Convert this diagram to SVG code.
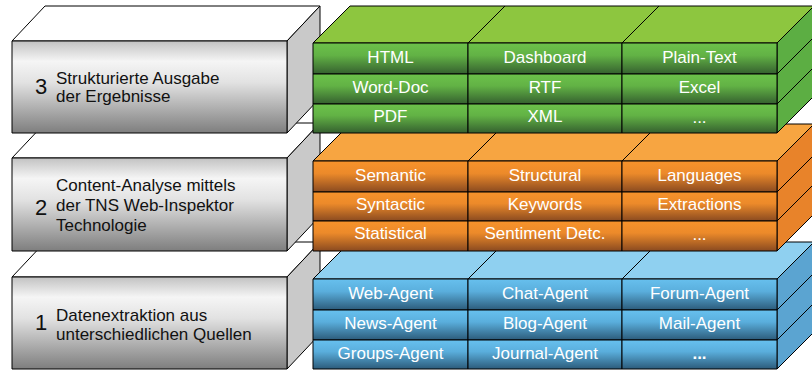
<svg xmlns="http://www.w3.org/2000/svg" width="812" height="370" viewBox="0 0 812 370">
  <defs>
    <linearGradient id="gGray" x1="0" y1="0" x2="0" y2="1">
      <stop offset="0" stop-color="#c2c2c2"/>
      <stop offset="0.22" stop-color="#f5f5f5"/>
      <stop offset="0.45" stop-color="#e2e2e2"/>
      <stop offset="1" stop-color="#7e7e7e"/>
    </linearGradient>
    <linearGradient id="gGreen" x1="0" y1="0" x2="0" y2="1">
      <stop offset="0" stop-color="#6cc24a"/>
      <stop offset="0.4" stop-color="#62b245"/>
      <stop offset="1" stop-color="#35602f"/>
    </linearGradient>
    <linearGradient id="gOrange" x1="0" y1="0" x2="0" y2="1">
      <stop offset="0" stop-color="#f7932b"/>
      <stop offset="0.4" stop-color="#ec8a2a"/>
      <stop offset="1" stop-color="#8a4a20"/>
    </linearGradient>
    <linearGradient id="gBlue" x1="0" y1="0" x2="0" y2="1">
      <stop offset="0" stop-color="#67c0ee"/>
      <stop offset="0.4" stop-color="#5aaedc"/>
      <stop offset="1" stop-color="#2c5b7a"/>
    </linearGradient>
  </defs>
  <style>
    .e{stroke:#000;stroke-width:1;stroke-linejoin:round}
    .gtop{fill:#ffffff}
    .gside{fill:#c9c9c9}
    .gfront{fill:url(#gGray)}
    .lbl{font-family:"Liberation Sans",Arial,Helvetica,sans-serif;font-size:17px;fill:#111}
    .num{font-family:"Liberation Sans",Arial,Helvetica,sans-serif;font-size:22px;fill:#111}
    .ct{font-family:"Liberation Sans",Arial,Helvetica,sans-serif;font-size:17px;fill:#ffffff;text-anchor:middle}
    .green .cell{fill:url(#gGreen)}
    .green .top{fill:#8dc63f}
    .green .side{fill:#5cae43}
    .orange .cell{fill:url(#gOrange)}
    .orange .top{fill:#f7a541}
    .orange .side{fill:#e8832a}
    .blue .cell{fill:url(#gBlue)}
    .blue .top{fill:#8fd0f0}
    .blue .side{fill:#5ba4d1}
    .ln{stroke:#000;stroke-width:1;fill:none}
  </style>

  <!-- Gray label boxes (bottom to top) -->
  <g id="label-1">
    <polygon class="gtop e" points="12,277 287,277 320,242 45,242"/>
    <polygon class="gside e" points="287,277 320,242 320,334 287,369"/>
    <rect class="gfront e" x="12" y="277" width="275" height="92"/>
    <text class="num" x="35" y="330">1</text>
    <text class="lbl" x="56" y="321">Datenextraktion aus</text>
    <text class="lbl" x="56" y="340">unterschiedlichen Quellen</text>
  </g>
  <g id="label-2">
    <polygon class="gtop e" points="12,158 287,158 320,123 45,123"/>
    <polygon class="gside e" points="287,158 320,123 320,216 287,251"/>
    <rect class="gfront e" x="12" y="158" width="275" height="93"/>
    <text class="num" x="35" y="215">2</text>
    <text class="lbl" x="56" y="191">Content-Analyse mittels</text>
    <text class="lbl" x="56" y="211">der TNS Web-Inspektor</text>
    <text class="lbl" x="56" y="231">Technologie</text>
  </g>
  <g id="label-3">
    <polygon class="gtop e" points="12,41 287,41 320,6 45,6"/>
    <polygon class="gside e" points="287,41 320,6 320,98 287,133"/>
    <rect class="gfront e" x="12" y="41" width="275" height="92"/>
    <text class="num" x="35" y="94">3</text>
    <text class="lbl" x="56" y="84">Strukturierte Ausgabe</text>
    <text class="lbl" x="56" y="102">der Ergebnisse</text>
  </g>

  <!-- Layer 1: blue -->
  <g id="block-1" class="blue">
    <polygon class="top e" points="313,279 777,279 814,242 350,242"/>
    <line class="ln" x1="468" y1="279" x2="505" y2="242"/>
    <line class="ln" x1="622" y1="279" x2="659" y2="242"/>
    <polygon class="side e" points="777,279 814,242 814,332 777,369"/>
    <line class="ln" x1="777" y1="310" x2="814" y2="273"/>
    <line class="ln" x1="777" y1="340" x2="814" y2="303"/>
    <g id="web-agent"><rect class="cell e" x="313" y="279" width="155" height="31"/><text class="ct" x="390.5" y="298.5">Web-Agent</text></g>
    <g id="chat-agent"><rect class="cell e" x="468" y="279" width="154" height="31"/><text class="ct" x="545" y="298.5">Chat-Agent</text></g>
    <g id="forum-agent"><rect class="cell e" x="622" y="279" width="155" height="31"/><text class="ct" x="699.5" y="298.5">Forum-Agent</text></g>
    <g id="news-agent"><rect class="cell e" x="313" y="310" width="155" height="30"/><text class="ct" x="390.5" y="329">News-Agent</text></g>
    <g id="blog-agent"><rect class="cell e" x="468" y="310" width="154" height="30"/><text class="ct" x="545" y="329">Blog-Agent</text></g>
    <g id="mail-agent"><rect class="cell e" x="622" y="310" width="155" height="30"/><text class="ct" x="699.5" y="329">Mail-Agent</text></g>
    <g id="groups-agent"><rect class="cell e" x="313" y="340" width="155" height="29"/><text class="ct" x="390.5" y="358.5">Groups-Agent</text></g>
    <g id="journal-agent"><rect class="cell e" x="468" y="340" width="154" height="29"/><text class="ct" x="545" y="358.5">Journal-Agent</text></g>
    <g id="more-agents"><rect class="cell e" x="622" y="340" width="155" height="29"/><text class="ct" x="699.5" y="358.5" font-weight="bold">...</text></g>
  </g>

  <!-- Layer 2: orange -->
  <g id="block-2" class="orange">
    <polygon class="top e" points="313,161 777,161 814,124 350,124"/>
    <line class="ln" x1="468" y1="161" x2="505" y2="124"/>
    <line class="ln" x1="622" y1="161" x2="659" y2="124"/>
    <polygon class="side e" points="777,161 814,124 814,214 777,251"/>
    <line class="ln" x1="777" y1="192" x2="814" y2="155"/>
    <line class="ln" x1="777" y1="221" x2="814" y2="184"/>
    <g id="semantic"><rect class="cell e" x="313" y="161" width="155" height="31"/><text class="ct" x="390.5" y="180.5">Semantic</text></g>
    <g id="structural"><rect class="cell e" x="468" y="161" width="154" height="31"/><text class="ct" x="545" y="180.5">Structural</text></g>
    <g id="languages"><rect class="cell e" x="622" y="161" width="155" height="31"/><text class="ct" x="699.5" y="180.5">Languages</text></g>
    <g id="syntactic"><rect class="cell e" x="313" y="192" width="155" height="29"/><text class="ct" x="390.5" y="210">Syntactic</text></g>
    <g id="keywords"><rect class="cell e" x="468" y="192" width="154" height="29"/><text class="ct" x="545" y="210">Keywords</text></g>
    <g id="extractions"><rect class="cell e" x="622" y="192" width="155" height="29"/><text class="ct" x="699.5" y="210">Extractions</text></g>
    <g id="statistical"><rect class="cell e" x="313" y="221" width="155" height="30"/><text class="ct" x="390.5" y="239">Statistical</text></g>
    <g id="sentiment"><rect class="cell e" x="468" y="221" width="154" height="30"/><text class="ct" x="545" y="239">Sentiment Detc.</text></g>
    <g id="more-analysis"><rect class="cell e" x="622" y="221" width="155" height="30"/><text class="ct" x="699.5" y="240">...</text></g>
  </g>

  <!-- Layer 3: green -->
  <g id="block-3" class="green">
    <polygon class="top e" points="313,43 777,43 814,6 350,6"/>
    <line class="ln" x1="468" y1="43" x2="505" y2="6"/>
    <line class="ln" x1="622" y1="43" x2="659" y2="6"/>
    <polygon class="side e" points="777,43 814,6 814,96 777,133"/>
    <line class="ln" x1="777" y1="74" x2="814" y2="37"/>
    <line class="ln" x1="777" y1="104" x2="814" y2="67"/>
    <g id="html"><rect class="cell e" x="313" y="43" width="155" height="31"/><text class="ct" x="390.5" y="63">HTML</text></g>
    <g id="dashboard"><rect class="cell e" x="468" y="43" width="154" height="31"/><text class="ct" x="545" y="63">Dashboard</text></g>
    <g id="plain-text"><rect class="cell e" x="622" y="43" width="155" height="31"/><text class="ct" x="699.5" y="63">Plain-Text</text></g>
    <g id="word-doc"><rect class="cell e" x="313" y="74" width="155" height="30"/><text class="ct" x="390.5" y="92.5">Word-Doc</text></g>
    <g id="rtf"><rect class="cell e" x="468" y="74" width="154" height="30"/><text class="ct" x="545" y="92.5">RTF</text></g>
    <g id="excel"><rect class="cell e" x="622" y="74" width="155" height="30"/><text class="ct" x="699.5" y="92.5">Excel</text></g>
    <g id="pdf"><rect class="cell e" x="313" y="104" width="155" height="29"/><text class="ct" x="390.5" y="121.5">PDF</text></g>
    <g id="xml"><rect class="cell e" x="468" y="104" width="154" height="29"/><text class="ct" x="545" y="121.5">XML</text></g>
    <g id="more-output"><rect class="cell e" x="622" y="104" width="155" height="29"/><text class="ct" x="699.5" y="122.5">...</text></g>
  </g>

  <g id="connectors"/>
</svg>
